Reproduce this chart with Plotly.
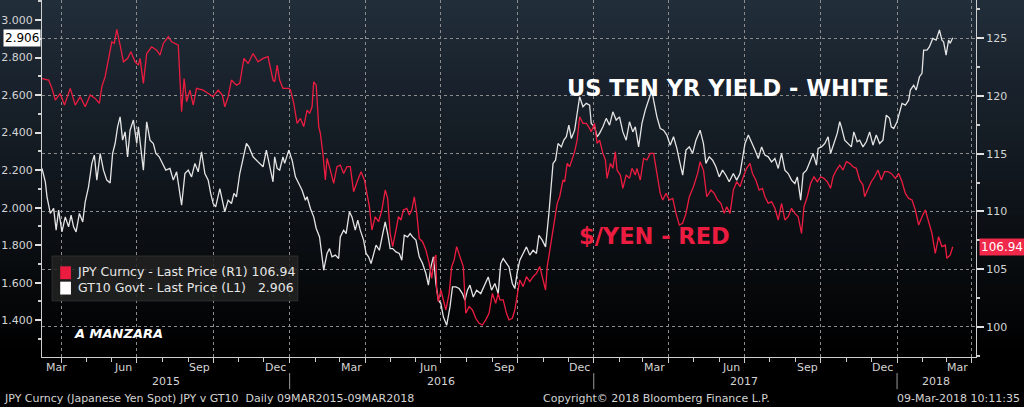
import pandas as pd
import plotly.graph_objects as go

# ---- data (days counted from 09-Mar-2015) ----
base_date = pd.Timestamp("2015-03-09")

jpy_days = [0, 8, 12, 16, 22, 27, 34, 40, 46, 52, 58, 64, 69, 72, 76, 80, 84, 87, 90, 94,
            98, 103, 107, 112, 116, 118, 122, 126, 132, 138, 142, 146, 152, 156, 160, 164, 168, 171, 174, 178,
            182, 186, 194, 200, 206, 212, 217, 220, 224, 228, 234, 238, 243, 248, 254, 260, 266, 272,
            278, 280, 283, 286, 290, 297, 299, 303, 307, 311, 315, 319, 322, 325, 327, 330, 333, 335, 338, 341,
            343, 347, 351, 355, 359, 363, 367, 371, 375, 380, 384, 388, 391, 394, 397, 401, 405, 409, 413, 416,
            419, 422, 426, 429, 432, 435, 439, 442, 445, 448, 451, 454, 458, 462, 466, 469, 472, 474, 475, 477,
            480, 483, 486, 490, 493, 496, 499, 503, 507, 510, 514, 518, 522, 526, 530, 534, 538, 542, 546, 549,
            551, 555, 559, 562,
            566, 569, 572, 575, 579, 583, 587, 591, 595, 599, 602, 606, 608, 611, 615, 617, 620, 623, 627, 629,
            632, 635, 639, 641, 644, 647, 651, 655, 659, 661, 665, 668, 671, 675, 678, 680, 684, 687, 690, 692,
            696, 699, 703, 707, 710, 714, 716, 720, 724, 728, 732, 736, 740, 744, 747, 751, 755, 759, 763, 767,
            771, 775, 779, 784, 789, 792, 796, 800, 805, 809, 813, 817, 821, 824, 828,
            832, 836, 840, 844, 848, 852, 855, 859, 863, 867, 870, 874, 878, 882, 886, 890, 894, 898, 902, 906,
            910, 914, 917, 921, 925, 929, 933, 937, 941, 945, 949, 952, 956, 960, 964, 968, 972, 976, 980, 984,
            988, 990, 994, 998, 1002, 1006, 1010, 1014, 1018, 1022, 1027, 1031, 1035, 1039, 1043, 1047, 1051, 1055,
            1059, 1063, 1067, 1071, 1075, 1079, 1083, 1087, 1089, 1093, 1096]
jpy_price = [121.50, 121.37, 120.65, 119.64, 120.21, 119.20, 120.65, 119.20, 119.93, 119.06, 120.07, 119.78,
             119.35, 120.79, 121.66, 123.10, 124.68, 124.54, 125.75, 124.39,
             122.95, 123.24, 123.82, 122.95, 122.66, 123.24, 121.08, 123.67, 124.25, 123.96, 123.53, 124.54,
             125.12, 124.68, 124.54, 124.39, 118.63, 121.51, 119.49, 120.50,
             119.20, 120.65, 120.50, 120.21, 119.93, 120.50, 120.07, 119.06, 119.93, 121.37, 120.93, 121.08,
             123.24, 122.81, 123.67, 122.95, 123.24, 123.39,
             121.37, 121.22, 122.66, 121.37, 120.65, 120.65, 120.50, 119.35, 117.62, 118.05, 117.33, 118.77,
             118.48, 119.06, 121.22, 120.93, 117.33, 116.75, 115.02, 112.72,
             114.59, 113.58, 112.43, 113.87, 114.01, 113.29, 113.87, 113.87, 111.71, 112.72, 113.44, 112.72,
             111.56, 110.41, 108.39, 109.54, 109.11, 110.12, 111.85, 111.13,
             108.10, 106.95, 108.39, 109.54, 109.26, 110.12, 110.27, 109.69, 110.12, 111.27, 109.83, 107.67,
             107.38, 106.66, 105.51, 104.21, 105.94, 106.23, 103.20, 102.19,
             103.20, 102.34, 101.47, 102.91, 105.22, 105.80, 106.95, 106.08, 105.22, 101.18, 101.76, 101.47,
             100.75, 100.32, 100.17, 100.61, 101.18, 102.91, 102.05, 102.91,
             102.34, 102.34, 101.18, 100.61,
             100.75, 101.47, 102.91, 104.07, 103.49, 104.35, 103.92, 104.35, 104.64, 105.22, 104.35, 103.20,
             105.22, 106.66, 108.39, 109.26, 110.70, 111.27, 112.72, 112.57,
             114.16, 113.87, 114.73, 115.17, 116.18, 118.19, 117.62, 117.62, 117.19, 116.90, 117.62, 115.89,
             116.18, 115.02, 114.45, 112.86, 114.16, 113.73, 115.17, 113.58,
             113.15, 112.00, 113.15, 112.86, 113.73, 113.15, 113.73, 112.72, 114.59, 114.45, 115.02, 115.02,
             113.29, 111.56, 110.99, 111.56, 110.99, 111.13, 109.83, 108.82,
             108.97, 109.83, 111.27, 112.14, 113.29, 114.30, 113.58, 111.27, 111.85, 111.56, 110.99, 110.70,
             109.83, 110.41, 109.83,
             111.85, 112.57, 112.14, 113.00, 113.73, 114.16, 113.29, 112.72, 111.85, 112.00, 111.27, 110.70,
             110.84, 110.27, 109.26, 110.70, 109.26, 109.54, 110.27, 109.83,
             109.54, 108.10, 110.41, 111.27, 112.43, 113.00, 112.57, 113.00, 112.86, 112.57, 112.00, 113.00,
             113.58, 114.01, 113.58, 114.30, 114.16, 113.87, 113.73, 112.72,
             112.28, 111.27, 111.85, 112.57, 113.00, 113.58, 112.72, 113.44, 113.44, 113.29, 112.86, 113.29,
             112.57, 111.56, 111.13, 110.99, 110.12, 108.82,
             109.54, 110.12, 109.11, 108.10, 106.37, 107.81, 106.95, 107.09, 105.94, 106.23, 106.94]

gt10_days = [0, 4, 6, 10, 14, 17, 20, 24, 28, 32, 35, 38, 41, 45, 49, 52, 56, 60, 63, 66,
             70, 74, 78, 82, 85, 88, 91, 94, 97, 100, 103, 106, 110, 114, 116, 119, 122, 126, 130, 134,
             137, 141, 145, 149, 154, 158, 162, 165, 168, 172, 176, 180, 184, 188, 192, 196, 200, 203, 206, 209,
             214, 217, 220, 224, 228, 231, 234, 238, 242, 246, 249, 254, 260, 266, 270, 274,
             278, 280, 283, 286, 290, 292, 297, 301, 305, 309, 313, 317, 319, 323, 327, 330, 334, 337, 339, 343,
             346, 349, 353, 357, 359, 363, 366, 370, 373, 377, 380, 383, 387, 390, 393, 396, 399, 402, 406, 410,
             413, 416, 419, 422, 426, 430, 433, 436, 440, 443, 446, 450, 454, 458, 462, 465, 468, 471, 474, 477,
             480, 483, 487, 491, 494, 498, 502, 506, 509, 512, 515, 519, 523, 528, 532, 537, 541, 545, 549, 552,
             555, 559, 562,
             566, 569, 572, 575, 579, 583, 587, 591, 595, 598, 602, 606, 610, 613, 615, 618, 621, 625, 628, 631,
             634, 637, 641, 644, 647, 651, 655, 659, 661, 665, 668, 671, 675, 679, 683, 687, 691, 695, 699, 703,
             707, 711, 714, 718, 722, 726, 730, 734, 736, 740, 744, 748, 752, 756, 760, 764, 767, 771, 775, 779,
             783, 787, 792, 796, 799, 803, 807, 811, 815, 819, 823, 827,
             832, 836, 840, 843, 846, 850, 854, 858, 862, 866, 870, 874, 878, 882, 886, 890, 894, 898, 902, 906,
             909, 913, 916, 920, 924, 928, 932, 934, 938, 942, 946, 949, 953, 957, 960, 962, 966, 970, 974, 977,
             981, 984, 988, 992, 996, 1000, 1004, 1008, 1012, 1016, 1020, 1022, 1025, 1029, 1032, 1035, 1039, 1043,
             1045, 1049, 1052, 1056, 1059, 1061, 1065, 1068, 1072, 1076, 1080, 1083, 1085, 1088, 1091, 1093, 1096]
gt10_yield = [2.209, 2.138, 2.058, 1.969, 1.996, 1.880, 1.987, 1.871, 1.951, 1.898, 1.960, 1.898, 1.871, 1.969,
              1.924, 2.031, 2.111, 2.236, 2.280, 2.147,
              2.289, 2.200, 2.147, 2.132, 2.289, 2.342, 2.431, 2.484, 2.360, 2.404, 2.271, 2.413, 2.467, 2.342,
              2.431, 2.307, 2.200, 2.458, 2.360, 2.342,
              2.289, 2.271, 2.236, 2.200, 2.209, 2.147, 2.191, 2.093, 2.013, 2.182, 2.200, 2.164, 2.236, 2.191,
              2.298, 2.182, 2.147, 2.076, 2.022, 2.004,
              2.102, 2.040, 1.978, 2.040, 2.022, 2.076, 2.058, 2.182, 2.271, 2.342, 2.324, 2.271, 2.244, 2.218,
              2.307, 2.218,
              2.138, 2.271, 2.209, 2.200, 2.271, 2.236, 2.307, 2.253, 2.164, 2.129, 2.093, 2.040, 2.058, 1.996,
              1.951, 1.889, 1.844, 1.738, 1.667, 1.756,
              1.782, 1.738, 1.747, 1.729, 1.844, 1.880, 1.862, 1.978, 1.951, 1.880, 1.933, 1.880, 1.827, 1.756,
              1.738, 1.702, 1.756, 1.800, 1.773, 1.862,
              1.924, 1.862, 1.782, 1.782, 1.764, 1.756, 1.720, 1.853, 1.844, 1.862, 1.844, 1.827, 1.738, 1.702,
              1.649, 1.587, 1.684, 1.738, 1.596, 1.507,
              1.489, 1.418, 1.373, 1.471, 1.578, 1.578, 1.569, 1.542, 1.507, 1.560, 1.587, 1.524, 1.560, 1.542,
              1.578, 1.631, 1.560, 1.596, 1.542, 1.702,
              1.729, 1.702, 1.684,
              1.596, 1.569, 1.658, 1.720, 1.756, 1.791, 1.747, 1.773, 1.756, 1.853, 1.827, 1.791, 1.969, 2.111,
              2.236, 2.253, 2.342, 2.324, 2.360, 2.378,
              2.440, 2.369, 2.413, 2.502, 2.591, 2.538, 2.556, 2.547, 2.449, 2.431, 2.378, 2.396, 2.431, 2.476,
              2.440, 2.511, 2.467, 2.484, 2.404, 2.360,
              2.458, 2.404, 2.431, 2.324, 2.449, 2.520, 2.573, 2.627, 2.573, 2.484, 2.422, 2.413, 2.387, 2.333,
              2.378, 2.316, 2.253, 2.173, 2.307, 2.324,
              2.289, 2.360, 2.413, 2.342, 2.236, 2.271, 2.253, 2.218, 2.164, 2.200, 2.173, 2.138,
              2.182, 2.147, 2.182, 2.271, 2.342, 2.387, 2.351, 2.307, 2.262, 2.324, 2.280, 2.271, 2.244, 2.262,
              2.209, 2.289, 2.200, 2.182, 2.147, 2.129,
              2.164, 2.040, 2.182, 2.200, 2.244, 2.289, 2.227, 2.316, 2.324, 2.342, 2.378, 2.289, 2.342, 2.396,
              2.458, 2.431, 2.360, 2.342, 2.324, 2.404,
              2.351, 2.360, 2.324, 2.351, 2.404, 2.333, 2.387, 2.342, 2.360, 2.493, 2.476, 2.431, 2.422, 2.458,
              2.502, 2.556, 2.547, 2.573,
              2.627, 2.653, 2.627, 2.698, 2.716, 2.840, 2.840, 2.858, 2.902, 2.893, 2.947, 2.893, 2.884, 2.813,
              2.893, 2.876, 2.906]

# axis labels
month_label_dates = ["2015-03-27", "2015-06-15", "2015-09-15", "2015-12-15", "2016-03-15", "2016-06-15",
                     "2016-09-15", "2016-12-15", "2017-03-15", "2017-06-15", "2017-09-15", "2017-12-15",
                     "2018-03-15"]
month_label_text = ["Mar", "Jun", "Sep", "Dec"] * 3 + ["Mar"]
year_label_dates = ["2015-08-05", "2016-07-01", "2017-07-01", "2018-02-17"]
year_label_text = ["2015", "2016", "2017", "2018"]
year_breaks = ["2016-01-01", "2017-01-01", "2018-01-01"]
left_ticks = [1.4, 1.6, 1.8, 2.0, 2.2, 2.4, 2.6, 2.8, 3.0]
right_ticks = [100, 105, 110, 115, 120, 125]

jpy_dates = base_date + pd.to_timedelta(jpy_days, unit="D")
gt10_dates = base_date + pd.to_timedelta(gt10_days, unit="D")

RED = "#ec1c40"
WHITE = "#e4e4e4"
TXT = "#d4d4d4"
FONT = "DejaVu Sans"

fig = go.Figure()
fig.add_trace(go.Scatter(x=gt10_dates, y=gt10_yield, mode="lines", name="GT10 Govt - Last Price (L1)",
                         line=dict(color=WHITE, width=1.3), yaxis="y", showlegend=False))
fig.add_trace(go.Scatter(x=jpy_dates, y=jpy_price, mode="lines", name="JPY Curncy - Last Price (R1)",
                         line=dict(color=RED, width=1.3), yaxis="y2", showlegend=False))

# dark blue -> black background gradient, in bands
shapes = []
n_bands = 48
top_rgb = (33, 45, 58)
for i in range(n_bands):
    t = (i + 0.5) / n_bands
    c = tuple(int(round(v * t)) for v in top_rgb)
    shapes.append(dict(type="rect", xref="paper", yref="paper", x0=-0.06, x1=1.07,
                       y0=i / n_bands, y1=(i + 1) / n_bands + 0.002,
                       fillcolor="rgb(%d,%d,%d)" % c, line=dict(width=0), layer="below"))

# year separators under the axis
for d in year_breaks:
    shapes.append(dict(type="line", xref="x", yref="paper", x0=d, x1=d, y0=-0.045, y1=-0.09,
                       line=dict(color="#9a9a9a", width=1)))

# legend box and colour squares
shapes.append(dict(type="rect", xref="paper", yref="paper", x0=0.0107, x1=0.274, y0=0.157, y1=0.283,
                   fillcolor="rgba(34,34,34,0.85)", line=dict(color="rgba(60,60,60,0.6)", width=1)))
shapes.append(dict(type="rect", xref="paper", yref="paper", x0=0.0195, x1=0.031, y0=0.218, y1=0.254,
                   fillcolor=RED, line=dict(width=0)))
shapes.append(dict(type="rect", xref="paper", yref="paper", x0=0.0195, x1=0.031, y0=0.175, y1=0.211,
                   fillcolor="#ffffff", line=dict(width=0)))

ann = []
for d, t in zip(month_label_dates, month_label_text):
    ann.append(dict(x=d, y=-0.03, xref="x", yref="paper", text=t, showarrow=False, xanchor="center",
                    font=dict(family=FONT, size=11, color=TXT), yanchor="middle"))
for d, t in zip(year_label_dates, year_label_text):
    ann.append(dict(x=d, y=-0.07, xref="x", yref="paper", text=t, showarrow=False, xanchor="center",
                    font=dict(family=FONT, size=11, color=TXT), yanchor="middle"))

ann += [
    dict(x=0.0355, y=0.216, xref="paper", yref="paper", xanchor="left", yanchor="middle", align="left",
         showarrow=False, font=dict(family=FONT, size=12.5, color="#e6e6e6"),
         text="JPY Curncy - Last Price (R1) 106.94<br>GT10 Govt - Last Price (L1)\u00a0\u00a0\u00a02.906"),
    dict(x=0.7345, y=0.7955, xref="paper", yref="paper", xanchor="center", showarrow=False,
         text="<b>US TEN YR YIELD - WHITE</b>", font=dict(family=FONT, size=22.5, color="#ffffff")),
    dict(x=0.656, y=0.297, xref="paper", yref="paper", xanchor="center", showarrow=False,
         text="<b>$/YEN - RED</b>", font=dict(family=FONT, size=22.5, color=RED)),
    dict(x=0.032, y=0.039, xref="paper", yref="paper", xanchor="left", showarrow=False,
         text="<b><i>A MANZARA</i></b>", font=dict(family=FONT, size=13, color="#ffffff")),
    dict(x=0, y=gt10_yield[-1], xref="paper", yref="y", xanchor="right", showarrow=False,
         text="%.3f" % gt10_yield[-1], bgcolor="#ffffff", borderpad=1, xshift=-1,
         font=dict(family=FONT, size=12, color="#000000")),
    dict(x=1, y=jpy_price[-1], xref="paper", yref="y2", xanchor="left", showarrow=False,
         text="%.2f" % jpy_price[-1], bgcolor="#f0284a", borderpad=1, xshift=3,
         font=dict(family=FONT, size=12, color="#ffffff")),
    dict(x=-0.0428, y=-0.115, xref="paper", yref="paper", xanchor="left", yanchor="middle", showarrow=False,
         text="JPY Curncy (Japanese Yen Spot) JPY v GT10\u00a0\u00a0Daily 09MAR2015-09MAR2018",
         font=dict(family=FONT, size=11, color=TXT)),
    dict(x=0.658, y=-0.115, xref="paper", yref="paper", xanchor="center", yanchor="middle", showarrow=False,
         text="Copyright\u00a9 2018 Bloomberg Finance L.P.", font=dict(family=FONT, size=11, color=TXT)),
    dict(x=1.049, y=-0.115, xref="paper", yref="paper", xanchor="right", yanchor="middle", showarrow=False,
         text="09-Mar-2018 10:11:35", font=dict(family=FONT, size=11, color=TXT)),
]

quarter_starts = pd.date_range("2015-04-01", "2018-04-01", freq="QS")
month_starts = pd.date_range("2015-04-01", "2018-04-01", freq="MS")

fig.update_layout(
    width=1024, height=407,
    margin=dict(l=42, r=48, t=0, b=50),
    paper_bgcolor="#000000", plot_bgcolor="rgba(0,0,0,0)",
    font=dict(family=FONT, size=11, color=TXT),
    shapes=shapes, annotations=ann, showlegend=False,
    xaxis=dict(type="date", range=["2015-03-09", "2018-04-06"],
               tickvals=list(quarter_starts), showticklabels=False,
               ticks="outside", ticklen=5, tickcolor="#cfcfcf",
               showgrid=True, gridcolor="#8c8c8c", griddash="dot", gridwidth=1,
               showline=True, linecolor="#cfcfcf", linewidth=1, zeroline=False,
               minor=dict(tickvals=list(month_starts), ticks="outside", ticklen=4,
                          tickcolor="#cfcfcf", showgrid=False)),
    yaxis=dict(range=[1.204, 3.107], tickvals=left_ticks, tickformat=".3f", side="left",
               ticks="outside", ticklen=6, tickwidth=2, tickcolor="#e0e0e0",
               showgrid=False, zeroline=False, showline=True, linecolor="#cfcfcf", linewidth=1,
               tickfont=dict(family=FONT, size=11, color=TXT),
               minor=dict(dtick=0.1, tick0=1.3, ticks="outside", ticklen=3, tickcolor="#cfcfcf",
                          showgrid=False)),
    yaxis2=dict(range=[97.4, 128.3], tickvals=right_ticks, overlaying="y", side="right",
                ticks="outside", ticklen=7, tickwidth=2, tickcolor="#e0e0e0",
                showgrid=True, gridcolor="#8c8c8c", griddash="dot", gridwidth=1,
                zeroline=False, showline=True, linecolor="#cfcfcf", linewidth=1,
                tickfont=dict(family=FONT, size=11, color=TXT),
                minor=dict(dtick=2.5, tick0=97.5, ticks="outside", ticklen=3, tickcolor="#cfcfcf",
                           showgrid=False)),
)

fig.write_html("out.html", config={"displayModeBar": False},
               post_script="document.body.style.margin='0';document.body.style.overflow='hidden';")
